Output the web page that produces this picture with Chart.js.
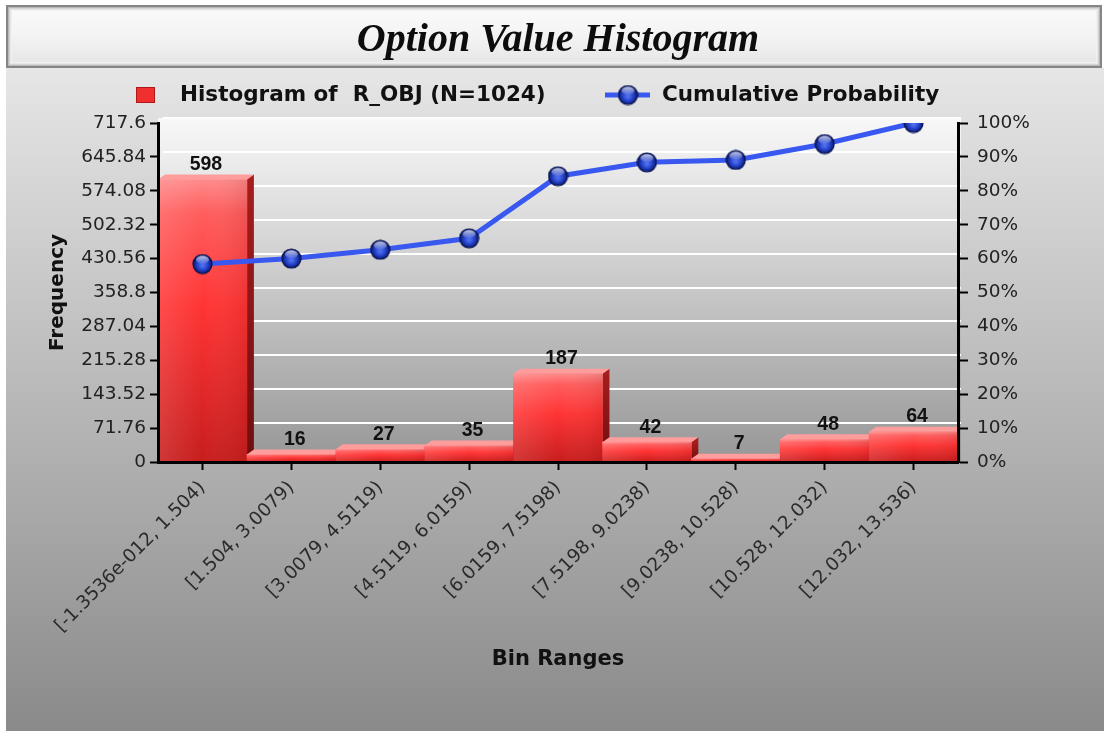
<!DOCTYPE html>
<html>
<head>
<meta charset="utf-8">
<script src="https://cdn.jsdelivr.net/npm/chart.js@4.4.1/dist/chart.umd.min.js"></script>
<style>
  html, body { margin: 0; padding: 0; background: #ffffff; }
  #wrap { width: 1104px; height: 731px; position: relative; }
</style>
</head>
<body>
<div id="wrap"><canvas id="histo"></canvas></div>
<script>
// ---- data ----
const binLabels = [
  '[-1.3536e-012, 1.504)', '[1.504, 3.0079)', '[3.0079, 4.5119)',
  '[4.5119, 6.0159)', '[6.0159, 7.5198)', '[7.5198, 9.0238)',
  '[9.0238, 10.528)', '[10.528, 12.032)', '[12.032, 13.536)'
];
const frequency = [598, 16, 27, 35, 187, 42, 7, 48, 64];
const cumulativePct = [58.4, 60.0, 62.6, 66.0, 84.3, 88.4, 89.1, 93.8, 100];

const freqTicks = [0, 71.76, 143.52, 215.28, 287.04, 358.8, 430.56, 502.32, 574.08, 645.84, 717.6];
const freqTickLabels = ['0', '71.76', '143.52', '215.28', '287.04', '358.8', '430.56', '502.32', '574.08', '645.84', '717.6'];
const pctTicks = [0, 10, 20, 30, 40, 50, 60, 70, 80, 90, 100];
const pctTickLabels = ['0%', '10%', '20%', '30%', '40%', '50%', '60%', '70%', '80%', '90%', '100%'];

const histLabel = 'Histogram of  R_OBJ (N=1024)';
const cumLabel = 'Cumulative Probability';

// ---- look ----
const LINE_BLUE = '#3858f0';
const DEPTH_X = 7, DEPTH_Y = 5;
const KEY_FONT = 'bold 21.5px "DejaVu Sans", sans-serif';

function makeSphere(r) {
  const s = Math.ceil(r * 2 + 2);
  const c = document.createElement('canvas');
  c.width = s; c.height = s;
  const g = c.getContext('2d');
  const cx = s / 2, cy = s / 2;
  const body = g.createRadialGradient(cx, cy + r * 0.15, r * 0.1, cx, cy, r);
  body.addColorStop(0, '#4f6ef0');
  body.addColorStop(0.55, '#2240c4');
  body.addColorStop(1, '#0a176a');
  g.fillStyle = body;
  g.beginPath(); g.arc(cx, cy, r, 0, Math.PI * 2); g.fill();
  g.lineWidth = 1.2; g.strokeStyle = '#08124e'; g.stroke();
  const hi = g.createLinearGradient(0, cy - r, 0, cy);
  hi.addColorStop(0, 'rgba(255,255,255,0.85)');
  hi.addColorStop(1, 'rgba(255,255,255,0.05)');
  g.fillStyle = hi;
  g.beginPath(); g.ellipse(cx, cy - r * 0.45, r * 0.68, r * 0.42, 0, 0, Math.PI * 2); g.fill();
  return c;
}
const sphere = makeSphere(9.5);

function barFill(ctx) {
  const chart = ctx.chart;
  if (!chart.chartArea || ctx.type !== 'data') return '#ff3434';
  const ys = chart.scales.y;
  const top = ys.getPixelForValue(ctx.raw);
  const base = ys.getPixelForValue(0);
  const g = chart.ctx.createLinearGradient(0, top, 0, base);
  g.addColorStop(0, '#ff8a8a');
  g.addColorStop(0.12, '#ff5d5d');
  g.addColorStop(0.45, '#ff3434');
  g.addColorStop(1, '#c71d1d');
  return g;
}

// frame, title box, wall and wall grid
const framePlugin = {
  id: 'frame',
  beforeDraw(chart) {
    const { ctx, chartArea: a, width, height } = chart;
    ctx.save();
    ctx.fillStyle = '#ffffff';
    ctx.fillRect(0, 0, width, height);

    const panel = ctx.createLinearGradient(0, 68, 0, height);
    panel.addColorStop(0, '#e6e6e6');
    panel.addColorStop(1, '#8a8a8a');
    ctx.fillStyle = panel;
    ctx.fillRect(6, 68, width - 6, height - 68);

    // title box with bevel
    const bx = 6, by = 5, bw = 1096, bh = 63;
    const tb = ctx.createLinearGradient(0, by, 0, by + bh);
    tb.addColorStop(0, '#fbfbfb');
    tb.addColorStop(0.5, '#f3f3f3');
    tb.addColorStop(1, '#e4e4e4');
    ctx.fillStyle = tb;
    ctx.fillRect(bx, by, bw, bh);
    const bevel = ['#9a9a9a', '#b9b9b9', '#d4d4d4', '#e6e6e6', '#f1f1f1'];
    bevel.forEach((col, i) => {
      ctx.strokeStyle = col; ctx.lineWidth = 1;
      ctx.strokeRect(bx + 1.5 + i, by + 1.5 + i, bw - 3 - 2 * i, bh - 3 - 2 * i);
    });
    ctx.strokeStyle = '#858585'; ctx.lineWidth = 2;
    ctx.strokeRect(bx + 1, by + 1, bw - 2, bh - 2);

    // back wall
    const wl = a.left, wr = a.right + 3, wt = a.top - DEPTH_Y, wb = a.bottom;
    const wall = ctx.createLinearGradient(0, wt, 0, wb);
    wall.addColorStop(0, '#f8f8f8');
    wall.addColorStop(1, '#979797');
    ctx.fillStyle = wall;
    ctx.fillRect(wl, wt, wr - wl, wb - wt);

    // wall grid lines from the frequency scale
    const ys = chart.scales.y;
    ctx.strokeStyle = '#ffffff'; ctx.lineWidth = 2;
    freqTicks.forEach((v) => {
      if (v === 0) return;
      const y = Math.round(ys.getPixelForValue(v) - DEPTH_Y);
      ctx.beginPath(); ctx.moveTo(a.left + 5, y); ctx.lineTo(wr, y); ctx.stroke();
    });
    ctx.restore();
  }
};

// top and side faces of the bars, drawn before the fronts
const bar3dPlugin = {
  id: 'bar3d',
  beforeDatasetDraw(chart, args) {
    if (args.meta.type !== 'bar') return;
    const { ctx, chartArea: a } = chart;
    ctx.save();
    ctx.beginPath();
    ctx.rect(a.left, 0, a.right - a.left, a.bottom);
    ctx.clip();
    args.meta.data.forEach((el) => {
      const p = el.getProps(['x', 'y', 'base', 'width'], true);
      const l = p.x - p.width / 2, r = p.x + p.width / 2;
      const side = ctx.createLinearGradient(0, p.y, 0, p.base);
      side.addColorStop(0, '#a81c1c');
      side.addColorStop(1, '#6d0e0e');
      ctx.fillStyle = side;
      ctx.beginPath();
      ctx.moveTo(r, p.y); ctx.lineTo(r + DEPTH_X, p.y - DEPTH_Y);
      ctx.lineTo(r + DEPTH_X, p.base - DEPTH_Y); ctx.lineTo(r, p.base);
      ctx.closePath(); ctx.fill();
      ctx.fillStyle = '#ff9d9d';
      ctx.beginPath();
      ctx.moveTo(l, p.y); ctx.lineTo(l + DEPTH_X, p.y - DEPTH_Y);
      ctx.lineTo(r + DEPTH_X, p.y - DEPTH_Y); ctx.lineTo(r, p.y);
      ctx.closePath(); ctx.fill();
    });
    ctx.restore();
  },
  afterDatasetDraw(chart, args) {
    if (args.meta.type !== 'bar') return;
    const { ctx } = chart;
    ctx.save();
    args.meta.data.forEach((el) => {
      const p = el.getProps(['x', 'y', 'base', 'width'], true);
      const l = p.x - p.width / 2, r = p.x + p.width / 2;
      const shade = ctx.createLinearGradient(l, 0, r, 0);
      shade.addColorStop(0, 'rgba(255,255,255,0.12)');
      shade.addColorStop(0.5, 'rgba(255,255,255,0)');
      shade.addColorStop(1, 'rgba(90,0,0,0.10)');
      ctx.fillStyle = shade;
      ctx.fillRect(l, p.y, r - l, p.base - p.y);
    });
    ctx.restore();
  }
};

// value labels above the bars
const valueLabelPlugin = {
  id: 'valueLabels',
  afterDatasetsDraw(chart) {
    const { ctx } = chart;
    const meta = chart.getDatasetMeta(0);
    ctx.save();
    ctx.font = 'bold 19.5px "Liberation Sans", Arial, sans-serif';
    ctx.fillStyle = '#111111';
    ctx.textAlign = 'center';
    ctx.textBaseline = 'alphabetic';
    meta.data.forEach((el, i) => {
      const p = el.getProps(['x', 'y'], true);
      ctx.fillText(String(frequency[i]), p.x + 3.5, p.y - 9.5);
    });
    ctx.restore();
  }
};

// series key under the title: red block, then blue line with a sphere
const seriesKeyPlugin = {
  id: 'seriesKey',
  afterDraw(chart) {
    const { ctx } = chart;
    const ds = chart.data.datasets;
    const cy = 95;
    ctx.save();
    ctx.fillStyle = '#f03030';
    ctx.fillRect(136, cy - 8, 19, 16);
    ctx.strokeStyle = '#b01818'; ctx.lineWidth = 1;
    ctx.strokeRect(136.5, cy - 7.5, 18, 15);

    ctx.strokeStyle = LINE_BLUE; ctx.lineWidth = 5;
    ctx.beginPath(); ctx.moveTo(605, cy); ctx.lineTo(650, cy); ctx.stroke();
    ctx.drawImage(sphere, 628 - sphere.width / 2, cy - sphere.height / 2);

    ctx.font = KEY_FONT;
    ctx.fillStyle = '#111111';
    ctx.textAlign = 'left';
    ctx.textBaseline = 'middle';
    ctx.fillText(ds[0].label, 180, cy);
    ctx.fillText(ds[1].label, 662, cy);
    ctx.restore();
  }
};

const tickFont = { family: 'DejaVu Sans', size: 18.5 };

new Chart(document.getElementById('histo'), {
  data: {
    labels: binLabels,
    datasets: [
      {
        type: 'bar',
        label: histLabel,
        data: frequency,
        yAxisID: 'y',
        order: 2,
        barPercentage: 1,
        categoryPercentage: 1,
        borderWidth: 0,
        backgroundColor: barFill
      },
      {
        type: 'line',
        label: cumLabel,
        data: cumulativePct,
        yAxisID: 'y2',
        order: 1,
        borderColor: LINE_BLUE,
        backgroundColor: LINE_BLUE,
        borderWidth: 5,
        tension: 0,
        fill: false,
        pointStyle: sphere,
        pointRadius: 10,
        pointHoverRadius: 10
      }
    ]
  },
  options: {
    responsive: true,
    maintainAspectRatio: false,
    devicePixelRatio: 1,
    animation: false,
    layout: { padding: 0 },
    plugins: {
      tooltip: { enabled: false },
      legend: { display: false },
      title: {
        display: true,
        fullSize: false,
        text: 'Option Value Histogram',
        color: '#0d0d0d',
        font: { family: 'Liberation Serif', size: 40, style: 'italic', weight: 'bold', lineHeight: 1.2 },
        padding: { top: 17, bottom: 58 }
      }
    },
    scales: {
      x: {
        offset: true,
        grid: { display: true, drawOnChartArea: false, drawTicks: true, tickLength: 8, tickColor: '#000', tickWidth: 2, offset: false },
        border: { display: true, color: '#000', width: 3, z: 1 },
        ticks: { autoSkip: false, maxRotation: 45, minRotation: 45, padding: 7, color: '#2b2b2b', font: { family: 'DejaVu Sans', size: 18.5 } },
        title: {
          display: true, text: 'Bin Ranges', color: '#111111',
          font: { family: 'DejaVu Sans', size: 21, weight: 'bold' },
          padding: { top: 0, bottom: 58.4 }
        },
        afterFit(s) { s.height = 269; }
      },
      y: {
        position: 'left',
        min: 0,
        max: 717.6,
        afterBuildTicks(s) { s.ticks = freqTicks.map((v) => ({ value: v })); },
        ticks: { autoSkip: false, padding: 4, color: '#222222', font: tickFont, callback: (v, i) => freqTickLabels[i] },
        grid: { drawOnChartArea: false, tickLength: 8, tickColor: '#000', tickWidth: 2 },
        border: { display: true, color: '#000', width: 3, z: 1 },
        title: {
          display: true, text: 'Frequency', color: '#111111',
          font: { family: 'DejaVu Sans', size: 20, weight: 'bold' },
          padding: { top: 46, bottom: 0 }
        },
        afterFit(s) { s.width = 158; s.paddingTop = 123; }
      },
      y2: {
        position: 'right',
        min: 0,
        max: 100,
        afterBuildTicks(s) { s.ticks = pctTicks.map((v) => ({ value: v })); },
        ticks: { autoSkip: false, padding: 9, color: '#222222', font: tickFont, callback: (v, i) => pctTickLabels[i] },
        grid: { drawOnChartArea: false, tickLength: 10, tickColor: '#000', tickWidth: 2 },
        border: { display: true, color: '#000', width: 3, z: 1 },
        afterFit(s) { s.width = 146; }
      }
    }
  },
  plugins: [framePlugin, bar3dPlugin, valueLabelPlugin, seriesKeyPlugin]
});
</script>
</body>
</html>
